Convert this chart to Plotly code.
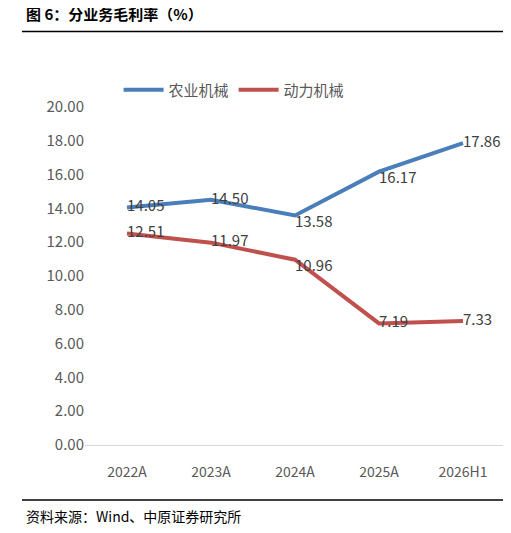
import plotly.graph_objects as go

years = ['2022A', '2023A', '2024A', '2025A', '2026H1']
agri = [14.05, 14.50, 13.58, 16.17, 17.86]
power = [12.51, 11.97, 10.96, 7.19, 7.33]

agri_pos = ['middle right', 'middle right', 'bottom right', 'bottom right', 'middle right']
power_pos = ['middle right', 'middle right', 'bottom right', 'middle right', 'middle right']

font = 'Noto Sans CJK SC'
fig = go.Figure()
fig.add_trace(go.Scatter(
    x=years, y=agri, name='农业机械', mode='lines+text',
    line=dict(color='#4a7ebb', width=4),
    text=[f'{v:.2f}' for v in agri], textposition=agri_pos,
    textfont=dict(size=15, color='#404040'),
))
fig.add_trace(go.Scatter(
    x=years, y=power, name='动力机械', mode='lines+text',
    line=dict(color='#c0504d', width=4),
    text=[f'{v:.2f}' for v in power], textposition=power_pos,
    textfont=dict(size=15, color='#404040'),
))

fig.update_layout(
    width=511, height=533,
    margin=dict(l=77, r=14, t=82, b=96),
    plot_bgcolor='white', paper_bgcolor='white',
    font=dict(family=font, color='#595959'),
    showlegend=True,
    legend=dict(orientation='h', x=0.08, y=1.0, xanchor='left', yanchor='middle',
                font=dict(size=15, color='#595959'), itemwidth=40),
    yaxis=dict(range=[0, 21], tickvals=[0, 2, 4, 6, 8, 10, 12, 14, 16, 18, 20],
               tickformat='.2f', showgrid=False, zeroline=False,
               tickfont=dict(size=15, color='#595959')),
    xaxis=dict(showgrid=False, showline=True, linecolor='#d9d9d9',
               range=[-0.5, 4.5], ticks='outside', ticklen=14, tickcolor='rgba(0,0,0,0)',
               tickfont=dict(size=14, color='#595959')),
    shapes=[
        dict(type='line', xref='paper', yref='paper', x0=-0.15, x1=1.03, y0=1.165, y1=1.165,
             line=dict(color='black', width=1.5)),
        dict(type='line', xref='paper', yref='paper', x0=-0.15, x1=1.03, y0=-0.155, y1=-0.155,
             line=dict(color='black', width=1.5)),
    ],
    annotations=[
        dict(text='<b>图 6：分业务毛利率（%）</b>', xref='paper', yref='paper', x=-0.145, y=1.215,
             xanchor='left', yanchor='middle', showarrow=False, font=dict(size=15, color='black')),
        dict(text='资料来源：Wind、中原证券研究所', xref='paper', yref='paper', x=-0.145, y=-0.2,
             xanchor='left', yanchor='middle', showarrow=False, font=dict(size=14, color='black')),
    ],
)
fig.write_html('out.html')
